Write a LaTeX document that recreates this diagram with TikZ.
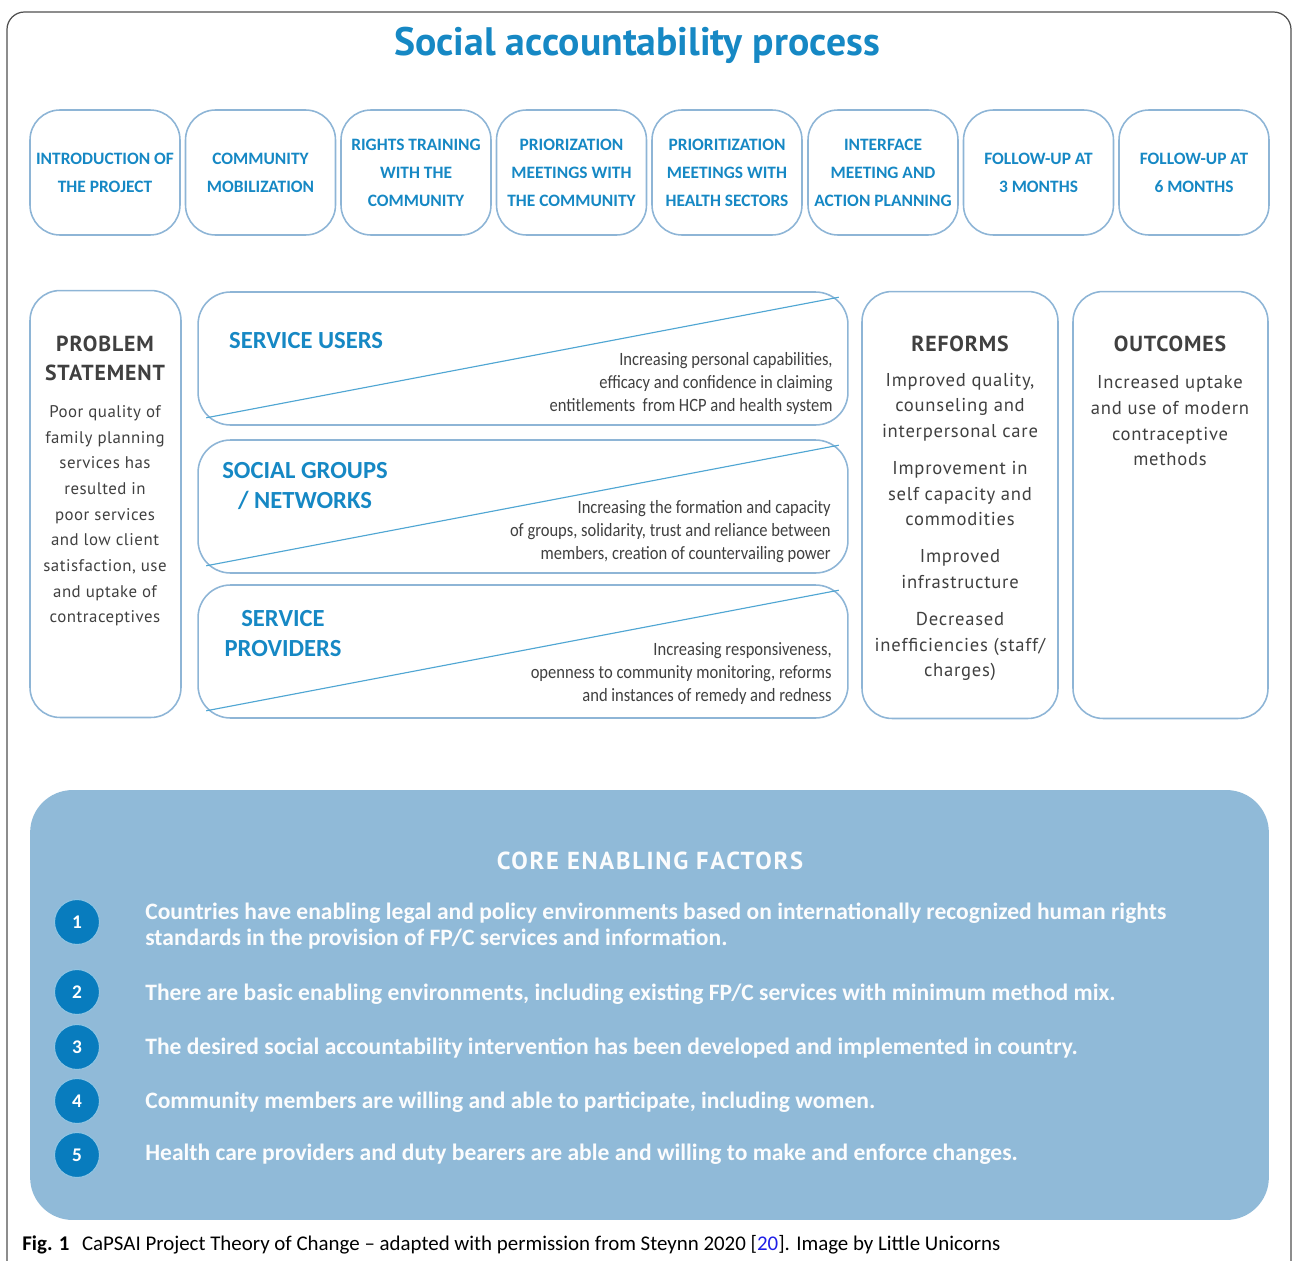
\documentclass[tikz,border=0pt]{standalone}
\usepackage{fontspec}
\setmainfont{PT Sans}
\newfontfamily\capfont{Carlito}
\newfontfamily\narrowfont[FakeStretch=0.88]{Carlito}
\usetikzlibrary{positioning,calc}
\definecolor{accent}{RGB}{22,136,196}
\definecolor{boxline}{RGB}{142,181,214}
\definecolor{panel}{RGB}{144,186,216}
\definecolor{dotblue}{RGB}{8,124,190}
\definecolor{inktext}{RGB}{64,64,64}
\definecolor{framecol}{RGB}{80,80,80}
\definecolor{linkblue}{RGB}{30,30,230}

\begin{document}
\begin{tikzpicture}[x=0.02cm, y=-0.02cm,
    stepbox/.style={draw=boxline, line width=0.9pt, rounded corners=0.6cm, minimum width=3cm,
                    minimum height=2.5cm, align=center, text=accent, inner sep=0pt,
                    font=\capfont\bfseries\fontsize{9.9}{16}\selectfont},
    column/.style={draw=boxline, line width=0.9pt, rounded corners=0.6cm, minimum height=8.54cm},
    actor/.style={draw=boxline, line width=0.9pt, rounded corners=0.65cm, minimum width=13cm,
                  minimum height=2.66cm},
    diag/.style={draw=accent!75, line width=0.65pt},
    heading/.style={text=inktext, font=\bfseries\fontsize{12.4}{16.5}\selectfont\addfontfeatures{LetterSpace=4},
                    align=center},
    body/.style={text=inktext, font=\fontsize{9.6}{14.6}\selectfont\addfontfeatures{LetterSpace=3},
                 align=center},
    actorlabel/.style={text=accent, font=\capfont\bfseries\fontsize{14}{17}\selectfont, align=center},
    effect/.style={text=inktext, font=\narrowfont\fontsize{10.7}{13.1}\selectfont, align=right,
                   anchor=east, inner sep=0pt},
    factor/.style={text=white!96!panel, font=\capfont\bfseries\fontsize{13.4}{14.8}\selectfont,
                   align=left, anchor=west, inner sep=0pt},
    num/.style={circle, fill=dotblue, draw=white!55!dotblue, line width=0.6pt, minimum size=0.9cm,
                text=white, font=\capfont\bfseries\fontsize{11}{12}\selectfont, inner sep=0pt}
]
\clip (0,0) rectangle (1292,1261);
\draw[framecol, line width=0.7pt, rounded corners=0.35cm] (7,12) rectangle (1291,1290);

% Title
\node[text=accent, font=\bfseries\fontsize{22.6}{25}\selectfont] (title) at (637,45) {Social accountability process};

% Process steps
\node[stepbox] (s1) at (105,172.5) {INTRODUCTION OF\\THE PROJECT};
\node[stepbox] (s2) at (260.5,172.5) {COMMUNITY\\MOBILIZATION};
\node[stepbox] (s3) at (416,172.5) {RIGHTS TRAINING\\WITH THE\\COMMUNITY};
\node[stepbox] (s4) at (571.5,172.5) {PRIORIZATION\\MEETINGS WITH\\THE COMMUNITY};
\node[stepbox] (s5) at (727,172.5) {PRIORITIZATION\\MEETINGS WITH\\HEALTH SECTORS};
\node[stepbox] (s6) at (883,172.5) {INTERFACE\\MEETING AND\\ACTION PLANNING};
\node[stepbox] (s7) at (1038.5,172.5) {FOLLOW-UP AT\\3 MONTHS};
\node[stepbox] (s8) at (1194,172.5) {FOLLOW-UP AT\\6 MONTHS};

% Problem statement
\node[column, minimum width=3.02cm] (problem) at (105.5,504) {};
\node[heading] (problemHead) at (105,358.5) {PROBLEM\\STATEMENT};
\node[body] (problemText) at (105,516) {Poor quality of\\family planning\\services has\\resulted in\\poor services\\and low client\\satisfaction, use\\and uptake of\\contraceptives};

% Actors
\node[actor] (users) at (523,358.5) {};
\node[actor] (groups) at (523,506.5) {};
\node[actor] (providers) at (523,651.5) {};
\draw[diag] ($(users.south west)+(9,-8)$) -- ($(users.north east)+(-10,6)$);
\draw[diag] ($(groups.south west)+(9,-8)$) -- ($(groups.north east)+(-10,6)$);
\draw[diag] ($(providers.south west)+(9,-8)$) -- ($(providers.north east)+(-10,6)$);
\node[actorlabel, anchor=west] (usersLabel) at (223,341) {SERVICE USERS};
\node[actorlabel] (groupsLabel) at (305,486) {SOCIAL GROUPS\\/ NETWORKS};
\node[actorlabel] (providersLabel) at (283,633.5) {SERVICE\\PROVIDERS};
\node[effect] (usersText) at (833,383) {Increasing personal capabilities,\\efficacy and confidence in claiming\\entitlements\ \ from HCP and health system};
\node[effect] (groupsText) at (831,532) {Increasing the formation and capacity\\of groups, solidarity, trust and reliance between\\members, creation of countervailing power};
\node[effect] (providersText) at (832,674) {Increasing responsiveness,\\openness to community monitoring, reforms\\and instances of remedy and redness};

% Reforms and outcomes
\node[column, minimum width=3.92cm] (reforms) at (960,505) {};
\node[heading] (reformsHead) at (960,344) {REFORMS};
\node[body, font=\fontsize{10.6}{14.6}\selectfont\addfontfeatures{LetterSpace=4}] (reformsText) at (960,527) {Improved quality,\\counseling and\\interpersonal care\\[6.5pt]Improvement in\\self capacity and\\commodities\\[6.5pt]Improved\\infrastructure\\[6.5pt]Decreased\\inefficiencies (staff/\\charges)};
\node[column, minimum width=3.9cm] (outcomes) at (1170.5,505) {};
\node[heading] (outcomesHead) at (1170,344) {OUTCOMES};
\node[body, font=\fontsize{10.6}{14.6}\selectfont\addfontfeatures{LetterSpace=4}] (outcomesText) at (1170,421) {Increased uptake\\and use of modern\\contraceptive\\methods};

% Core enabling factors
\node[fill=panel, rounded corners=0.85cm, minimum width=24.78cm, minimum height=8.6cm] (core) at (649.5,1005) {};
\node[text=white!96!panel, font=\bfseries\fontsize{14}{16}\selectfont\addfontfeatures{LetterSpace=7}] (coreHead) at (650,861) {CORE ENABLING FACTORS};
\node[num] (f1) at (77,922) {1};
\node[num] (f2) at (77,992) {2};
\node[num] (f3) at (77,1047) {3};
\node[num] (f4) at (77,1101) {4};
\node[num] (f5) at (77,1155) {5};
\node[factor] (t1) at (145,926) {Countries have enabling legal and policy environments based on internationally recognized human rights\\standards in the provision of FP/C services and information.};
\node[factor] (t2) at (145,994) {There are basic enabling environments, including existing FP/C services with minimum method mix.};
\node[factor] (t3) at (145,1048) {The desired social accountability intervention has been developed and implemented in country.};
\node[factor] (t4) at (145,1102) {Community members are willing and able to participate, including women.};
\node[factor] (t5) at (145,1154) {Health care providers and duty bearers are able and willing to make and enforce changes.};

% Caption
\node[anchor=base west, inner sep=0pt, font=\capfont\fontsize{11.9}{14}\selectfont] (caption) at (22,1250)
  {\textbf{Fig. 1}\hspace{0.6em}CaPSAI Project Theory of Change – adapted with permission from Steynn 2020 [\textcolor{linkblue}{20}]. Image by Little Unicorns};
\end{tikzpicture}
\end{document}
